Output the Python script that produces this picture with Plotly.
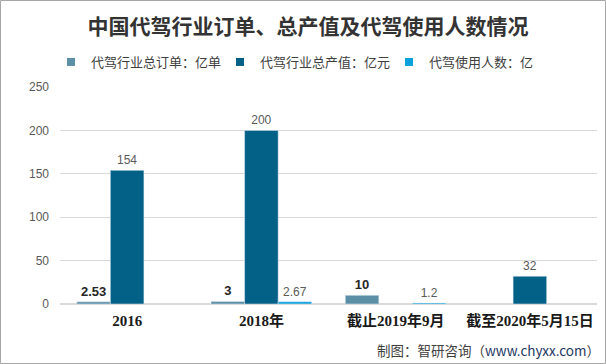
import plotly.graph_objects as go

categories = ["2016", "2018年", "截止2019年9月", "截至2020年5月15日"]
orders = [2.53, 3, 10, None]
output_value = [154, 200, None, 32]
users = [None, 2.67, 1.2, None]
series_names = ["代驾行业总订单：亿单", "代驾行业总产值：亿元", "代驾使用人数：亿"]
colors = ["#5B8FA6", "#036087", "#0AA0DC"]

def fmt(v):
    return "" if v is None else ("%g" % v)

L, R, T, B = 60, 9, 87, 60
W, H = 606, 364
pw, ph = W - L - R, H - T - B

def py(pix):
    """pixel row from top -> paper y"""
    return (T + ph - pix) / ph

def px(pix):
    return (pix - L) / pw

fig = go.Figure()
series = [orders, output_value, users]
for i, vals in enumerate(series):
    if i == 0:
        txt = [("<b>%s</b>" % fmt(v)) if v is not None else "" for v in vals]
        tf = dict(size=13, color="#262626", family="Liberation Sans, Noto Sans CJK SC")
    else:
        txt = [fmt(v) for v in vals]
        tf = dict(size=12, color="#595959", family="Liberation Sans, Noto Sans CJK SC")
    fig.add_trace(go.Bar(
        x=categories, y=vals, name=series_names[i],
        marker_color=colors[i], text=txt, textposition="outside",
        cliponaxis=False, textfont=tf, showlegend=False,
    ))
# legend-only entries with small square symbols
for i in range(3):
    fig.add_trace(go.Scatter(
        x=[None], y=[None], mode="markers", name=series_names[i],
        marker=dict(symbol="square", size=8, color=colors[i]), showlegend=True,
    ))

fig.update_layout(
    width=W, height=H,
    margin=dict(l=L, r=R, t=T, b=B, autoexpand=False),
    paper_bgcolor="white", plot_bgcolor="white",
    barmode="group", bargap=0.25, bargroupgap=0,
    title=dict(text="<b>中国代驾行业订单、总产值及代驾使用人数情况</b>",
               x=308 / W, xref="container", xanchor="center", y=1 - 27 / H, yref="container",
               yanchor="middle",
               font=dict(size=21, color="#333333", family="Noto Sans CJK SC")),
    legend=dict(orientation="h", x=px(51), xanchor="left", xref="paper",
                y=py(62), yref="paper", yanchor="middle",
                font=dict(size=13, color="#404040", family="Noto Sans CJK SC"),
                itemwidth=30, traceorder="normal", entrywidth=124, entrywidthmode="pixels"),
    showlegend=True,
    xaxis=dict(showgrid=False, showline=False, ticks="", automargin=False,
               tickfont=dict(size=15, color="#1a1a1a", family="Liberation Serif, Noto Sans CJK SC"),
               tickprefix="<b>", ticksuffix="</b>", ticklabelstandoff=6),
    yaxis=dict(range=[0, 250], dtick=50, showgrid=True, gridcolor="#D9D9D9", gridwidth=1,
               zeroline=True, zerolinecolor="#D9D9D9", showline=False, ticks="", automargin=False,
               tickfont=dict(size=12, color="#595959", family="Liberation Sans"),
               ticklabelstandoff=10),
    shapes=[dict(type="rect", xref="paper", yref="paper",
                 x0=px(0.5), x1=px(W - 0.5), y0=py(H - 0.5), y1=py(0.5),
                 line=dict(color="#A6A6A6", width=1), fillcolor="rgba(0,0,0,0)", layer="below")],
    annotations=[dict(text="制图：智研咨询（<span style='color:#1F3864'>www.chyxx.com</span>）",
                      xref="paper", yref="paper",
                      x=px(602), y=py(350),
                      xanchor="right", yanchor="middle", showarrow=False,
                      font=dict(size=13.5, color="#404040", family="Noto Sans CJK SC"))],
)
fig.update_xaxes(range=[-0.5, 3.5])
fig.write_html("out.html", config={"displayModeBar": False},
               post_script="document.body.style.margin='0px';document.body.style.overflow='hidden';")
